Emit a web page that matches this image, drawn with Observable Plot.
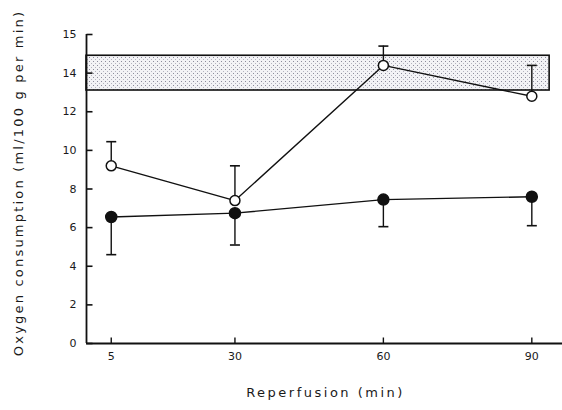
<!DOCTYPE html>
<html><head><meta charset="utf-8">
<script src="https://cdn.jsdelivr.net/npm/d3@7"></script>
<script src="https://cdn.jsdelivr.net/npm/@observablehq/plot@0.6"></script>
<style>body{margin:0;background:#fff;} #chart svg{display:block;}</style>
</head><body><div id="chart"></div>
<script>
// ---- data ----
const times = [5, 30, 60, 90];
const openMean = [9.2, 7.4, 14.4, 12.8];
const openUpper = [10.45, 9.2, 15.4, 14.4];
const filledMean = [6.55, 6.75, 7.45, 7.6];
const filledLower = [4.6, 5.1, 6.05, 6.1];
const normalRange = [13.1, 14.9];      // shaded reference band (y)
const normalSpan = [0, 93.6];          // band extent along x
const yTicks = [0, 2, 4, 6, 8, 10, 12, 14, 16];
const yTickLabels = ["0", "2", "4", "6", "8", "10", "12", "14", "15"];
const xTicks = [5, 30, 60, 90];
const yTitle = "Oxygen consumption (ml/100 g per min)";
const xTitle = "Reperfusion (min)";

const openData = times.map((t, i) => ({t, y: openMean[i], e: openUpper[i]}));
const filledData = times.map((t, i) => ({t, y: filledMean[i], e: filledLower[i]}));
const band = [{t0: normalSpan[0], t1: normalSpan[1], lo: normalRange[0], hi: normalRange[1]}];

const cap = {draw(ctx, size) { const r = Math.sqrt(size / Math.PI); ctx.moveTo(-r, 0); ctx.lineTo(r, 0); }};
const tickUp = {draw(ctx, size) { const r = Math.sqrt(size / Math.PI); ctx.moveTo(0, 0); ctx.lineTo(0, -r); }};
const tickRight = {draw(ctx, size) { const r = Math.sqrt(size / Math.PI); ctx.moveTo(0, 0); ctx.lineTo(r, 0); }};

const chart = Plot.plot({
  width: 562, height: 410,
  marginLeft: 86, marginRight: 0, marginTop: 34, marginBottom: 67,
  style: {fontFamily: "DejaVu Sans", fontSize: "11px", background: "white", color: "#1a1a1a"},
  x: {domain: [0, 96.2]},
  y: {domain: [0, 16]},
  marks: [
    Plot.rect(band, {x1: "t0", x2: "t1", y1: "lo", y2: "hi", fill: "url(#stipple)", stroke: "#111", strokeWidth: 1.6}),
    Plot.ruleY([0], {stroke: "#111", strokeWidth: 1.8}),
    Plot.ruleX([0], {stroke: "#111", strokeWidth: 1.8}),
    Plot.dot(xTicks, {x: d => d, y: 0, symbol: tickUp, r: 6, stroke: "#111", strokeWidth: 1.4, fill: "none"}),
    Plot.dot(yTicks, {x: 0, y: d => d, symbol: tickRight, r: 6, stroke: "#111", strokeWidth: 1.6, fill: "none"}),
    Plot.axisX({ticks: xTicks, tickSize: 0, tickPadding: 9, label: null}),
    Plot.axisY({ticks: yTicks, tickFormat: (d, i) => yTickLabels[i], tickSize: 0, tickPadding: 10, label: null}),
    Plot.text([xTitle], {frameAnchor: "bottom", lineAnchor: "middle", dx: 1, dy: 49, fontSize: 13}),
    Plot.text([yTitle], {frameAnchor: "left", rotate: -90, lineAnchor: "middle", textAnchor: "middle", dx: -68, dy: -6, fontSize: 13}),
    // error bars
    Plot.ruleX(openData, {x: "t", y1: "y", y2: "e", stroke: "#111", strokeWidth: 1.4}),
    Plot.dot(openData, {x: "t", y: "e", symbol: cap, r: 5, stroke: "#111", strokeWidth: 1.6, fill: "none"}),
    Plot.ruleX(filledData, {x: "t", y1: "y", y2: "e", stroke: "#111", strokeWidth: 1.4}),
    Plot.dot(filledData, {x: "t", y: "e", symbol: cap, r: 5, stroke: "#111", strokeWidth: 1.6, fill: "none"}),
    // lines
    Plot.line(openData, {x: "t", y: "y", stroke: "#111", strokeWidth: 1.4}),
    Plot.line(filledData, {x: "t", y: "y", stroke: "#111", strokeWidth: 1.4}),
    // markers
    Plot.dot(filledData, {x: "t", y: "y", r: 5.5, fill: "#111", stroke: "#111"}),
    Plot.dot(openData, {x: "t", y: "y", r: 5, fill: "white", stroke: "#111", strokeWidth: 1.5})
  ]
});
chart.insertAdjacentHTML("afterbegin",
  '<defs><pattern id="stipple" width="4" height="4" patternUnits="userSpaceOnUse">' +
  '<rect width="4" height="4" fill="#f3f3f6"/><rect x="1" y="1" width="1" height="1" fill="#8c8c9c"/>' +
  '<rect x="3" y="3" width="1" height="1" fill="#b4b4c0"/></pattern></defs>');
chart.querySelectorAll("text").forEach(t => {
  if (t.textContent === yTitle) t.setAttribute("letter-spacing", "2.2");
  if (t.textContent === xTitle) t.setAttribute("letter-spacing", "2.5");
});
document.getElementById("chart").appendChild(chart);
</script>
</body></html>
